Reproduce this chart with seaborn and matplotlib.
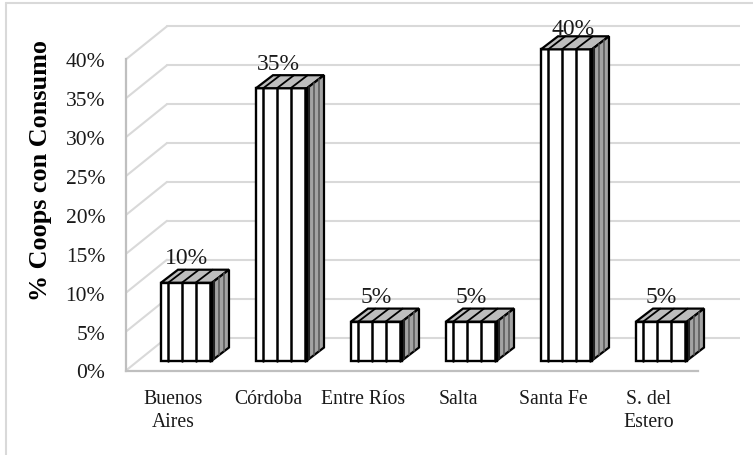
import matplotlib
matplotlib.use("Agg")
import matplotlib.pyplot as plt
from matplotlib.lines import Line2D
from matplotlib.patches import Polygon
from matplotlib.transforms import ScaledTranslation
import pandas as pd
import seaborn as sns

provinces = ["Buenos\nAires", "Córdoba", "Entre Ríos", "Salta", "Santa Fe", "S. del\nEstero"]
shares = [10, 35, 5, 5, 40, 5]
y_ticks = [0, 5, 10, 15, 20, 25, 30, 35, 40]
y_title = "% Coops con Consumo"

W, H = 753, 456
PX = 95.0            # pixels per category
PY = 7.78            # pixels per percent
X0 = 186.5           # pixel of first category
Y0 = 361.5           # pixel of 0 % on the bar plane
LEFT, RIGHT, BOTTOM, TOP = 126, 740, 371.5, 8

sns.set_theme(style="white")
plt.rcParams["font.family"] = ["Liberation Serif", "DejaVu Serif"]
TEXT = "#1a1a1a"

fig = plt.figure(figsize=(W / 100, H / 100), dpi=100, facecolor="white")
for xs, ys in (([6 / W, 6 / W], [0, 1 - 4 / H]), ([6 / W, 1], [1 - 4 / H, 1 - 4 / H])):
    fig.add_artist(Line2D(xs, ys, transform=fig.transFigure, color="#d9d9d9", lw=1.5))

ax = fig.add_axes([LEFT / W, 1 - BOTTOM / H, (RIGHT - LEFT) / W, (BOTTOM - TOP) / H])
ax.set_facecolor("none")

df = pd.DataFrame({"province": provinces, "share": shares})
bar_w = 51 / PX
sns.barplot(data=df, x="province", y="share", width=bar_w, color="white", saturation=1,
            edgecolor="black", linewidth=1.7, ax=ax, zorder=4)

ax.set_xlim((LEFT - X0) / PX, (RIGHT - X0) / PX)
ax.set_ylim((Y0 - BOTTOM) / PY, (Y0 - TOP) / PY)

# walls
back_dx, back_dy = 41 / PX, 23 / PY
front_dy = -10 / PY
x_l, x_r = ax.get_xlim()
for p in y_ticks:
    ax.plot([x_l + back_dx, x_r], [p + back_dy] * 2, color="#d9d9d9", lw=1.5, zorder=1)
    ax.plot([x_l, x_l + back_dx], [p + front_dy, p + back_dy], color="#d9d9d9", lw=1.5, zorder=1)

# 3-D faces of each bar
dx, dy = 17 / PX, 13 / PY
step = 13.7 / PX
for i, v in enumerate(shares):
    l, r = i - bar_w / 2, i + bar_w / 2
    ax.add_patch(Polygon([(l, v), (r, v), (r + dx, v + dy), (l + dx, v + dy)],
                         facecolor="#bdbdbd", edgecolor="black", lw=1.6, zorder=5))
    ax.add_patch(Polygon([(r, 0), (r + dx, dy), (r + dx, v + dy), (r, v)],
                         facecolor="#a3a3a3", edgecolor="black", lw=1.6, zorder=5))
    for k in (1, 2, 3):
        xs = l + (k - 0.47) * step
        ax.plot([xs, xs], [0, v], color="black", lw=1.8, zorder=6)
        ax.plot([xs, xs + dx], [v, v + dy], color="black", lw=1.3, zorder=6)
    ax.plot([r - 2.5 / PX] * 2, [0, v], color="black", lw=1.8, zorder=6)
    for f, shade, w in ((0.12, "#222222", 1.5), (0.42, "#555555", 1.1), (0.72, "#555555", 1.1)):
        ax.plot([r + f * dx] * 2, [f * dy, v + f * dy], color=shade, lw=w, zorder=6)

nudges_x = [0, -3, 0, 0, 7, 0]
nudges_y = [6.5, 6.5, 6.5, 6.5, 2.5, 6.5]
for i, v in enumerate(shares):
    ax.annotate(f"{v}%", (i, v + dy), xytext=(nudges_x[i] * 0.72, nudges_y[i] * 0.72),
                textcoords="offset points", ha="center", va="baseline", fontsize=17,
                color=TEXT, zorder=7, annotation_clip=False)

for s in ("top", "right"):
    ax.spines[s].set_visible(False)
for s in ("left", "bottom"):
    ax.spines[s].set_color("#bfbfbf")
    ax.spines[s].set_linewidth(1.6)
ax.spines["left"].set_bounds(ax.get_ylim()[0], 40 + front_dy)
ax.spines["bottom"].set_bounds(x_l, (698 - X0) / PX)

ax.set_yticks([p + front_dy for p in y_ticks])
ax.set_yticklabels([f"{p}%" for p in y_ticks], fontsize=15.5, color=TEXT, va="center_baseline")
ax.tick_params(axis="y", length=0, pad=15)
ax.tick_params(axis="x", length=0, pad=13)
ax.set_xticks([i - 13 / PX for i in range(len(provinces))])
ax.set_xticklabels(provinces, fontsize=14.2, color=TEXT, linespacing=1.29)
ax.set_xlabel("")
ax.set_ylabel(y_title, fontsize=18.8, fontweight="bold", color="black", va="center")
ax.yaxis.set_label_coords((41 - LEFT) / (RIGHT - LEFT), (BOTTOM - 171) / (BOTTOM - TOP))

fig.savefig("out.png", dpi=100)
